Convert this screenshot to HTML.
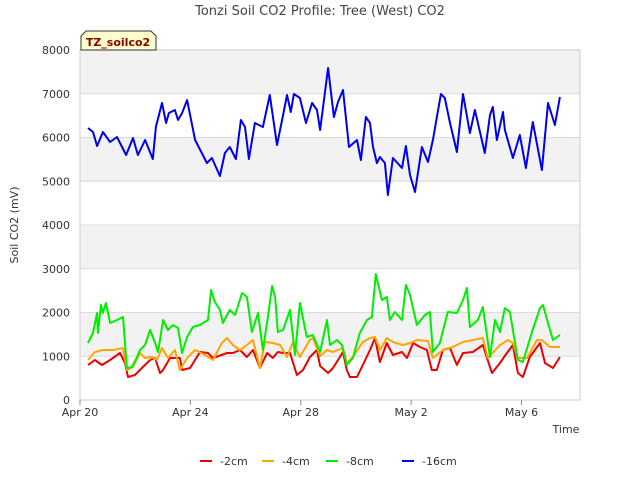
<!DOCTYPE html>
<html><head><meta charset="utf-8"><style>
body{margin:0;background:#fff;font-family:"Liberation Sans","DejaVu Sans",sans-serif}
svg text{font-family:"DejaVu Sans","Liberation Sans",sans-serif}
</style></head><body>
<svg id="c" width="640" height="480" xmlns="http://www.w3.org/2000/svg">
<text x="320" y="15" text-anchor="middle" font-size="13" fill="#444">Tonzi Soil CO2 Profile: Tree (West) CO2</text>
<g id="bands"></g><g id="grid"></g><g id="axes"></g><g id="series"></g>
<text transform="translate(18,225) rotate(-90)" text-anchor="middle" font-size="11" fill="#333">Soil CO2 (mV)</text>
<text x="566" y="433" text-anchor="middle" font-size="11" fill="#333">Time</text>
<g>
<path d="M81,50 L81,36 L86,31 L151,31 L156,36 L156,50 Z" fill="#ffffcc" stroke="#333" stroke-width="1"/>
<text x="118" y="46" text-anchor="middle" font-size="11" font-weight="bold" fill="#8b0000">TZ_soilco2</text>
</g>
<g id="legend"></g>
</svg>
<script>
const xTickLabels=["Apr 20","Apr 24","Apr 28","May 2","May 6"];
const xTickDays=[0,4,8,12,16];
const yTicks=[0,1000,2000,3000,4000,5000,6000,7000,8000];
const seriesNames=["-2cm","-4cm","-8cm","-16cm"];
const seriesColors=["#ee0000","#ffa500","#00ee00","#0000ee"];
const d16=[0.29,0.47,0.62,0.83,1.09,1.34,1.67,1.92,2.10,2.36,2.64,2.75,2.97,3.12,3.22,3.44,3.55,3.70,3.88,4.17,4.60,4.78,5.07,5.25,5.43,5.65,5.83,5.98,6.12,6.34,6.63,6.88,7.14,7.36,7.50,7.64,7.75,7.97,8.19,8.41,8.59,8.70,8.99,9.20,9.35,9.53,9.75,10.04,10.18,10.36,10.51,10.62,10.76,10.87,11.05,11.16,11.34,11.67,11.81,11.96,12.14,12.39,12.61,12.79,13.08,13.22,13.41,13.66,13.88,14.13,14.31,14.67,14.86,14.96,15.11,15.33,15.40,15.69,15.94,16.16,16.41,16.74,16.96,17.21,17.39];
const v16=[6217,6126,5806,6126,5897,6011,5600,5989,5600,5943,5509,6240,6789,6331,6560,6629,6400,6560,6857,5943,5417,5531,5120,5646,5783,5509,6400,6240,5509,6331,6240,6971,5829,6514,6971,6583,6994,6903,6331,6789,6629,6171,7589,6469,6811,7086,5783,5943,5486,6469,6331,5783,5417,5554,5417,4686,5531,5303,5806,5143,4754,5783,5440,5943,6994,6903,6331,5669,6994,6103,6629,5646,6514,6697,5943,6583,6171,5531,6057,5303,6354,5257,6789,6286,6926];
const d8=[0.29,0.47,0.62,0.65,0.76,0.83,0.94,1.09,1.34,1.56,1.70,1.88,2.07,2.17,2.36,2.54,2.72,2.83,3.01,3.19,3.37,3.55,3.70,3.88,4.09,4.35,4.64,4.75,4.89,5.07,5.18,5.43,5.62,5.87,6.05,6.23,6.45,6.63,6.81,6.96,7.07,7.17,7.36,7.61,7.79,7.97,8.22,8.44,8.70,8.95,9.06,9.31,9.49,9.67,9.89,10.14,10.40,10.58,10.72,10.94,11.12,11.23,11.41,11.67,11.81,11.96,12.21,12.50,12.68,12.79,13.04,13.33,13.66,13.88,14.02,14.13,14.42,14.60,14.86,15.04,15.22,15.40,15.58,15.69,15.87,16.05,16.38,16.67,16.78,16.96,17.14,17.39];
const v8=[1303,1531,1989,1531,2171,1989,2217,1760,1829,1897,731,754,983,1143,1257,1600,1303,1097,1829,1600,1714,1646,1074,1440,1669,1714,1829,2514,2240,2057,1760,2057,1943,2446,2354,1554,1989,1143,1897,2606,2354,1554,1600,2057,1029,2217,1440,1486,1097,1829,1257,1371,1257,800,960,1531,1829,1897,2880,2286,2354,1829,2011,1829,2629,2400,1714,1943,2011,1097,1303,2011,1989,2286,2560,1669,1829,2126,983,1829,1554,2103,2011,1600,914,869,1554,2103,2171,1760,1371,1486];
const d2=[0.29,0.54,0.80,1.09,1.45,1.63,1.74,1.99,2.28,2.54,2.72,2.90,3.01,3.26,3.62,3.70,3.99,4.35,4.64,4.82,5.33,5.54,5.80,6.05,6.27,6.52,6.78,6.99,7.17,7.36,7.61,7.86,8.08,8.33,8.59,8.70,8.99,9.17,9.53,9.67,9.78,10.04,10.25,10.51,10.69,10.87,11.12,11.34,11.67,11.85,12.07,12.32,12.57,12.75,12.93,13.15,13.41,13.66,13.88,14.24,14.60,14.75,14.93,15.22,15.47,15.69,15.87,16.05,16.30,16.67,16.85,17.14,17.39];
const v2=[800,914,800,914,1074,846,526,571,754,914,960,617,686,960,960,686,731,1097,1074,960,1074,1074,1143,983,1143,731,1074,960,1097,1074,1074,571,686,983,1143,777,617,731,1097,686,526,526,800,1143,1417,869,1303,1029,1097,960,1303,1211,1143,686,686,1143,1189,800,1074,1097,1257,960,617,846,1074,1257,617,526,983,1303,846,731,983];
const d4=[0.29,0.54,0.83,1.20,1.56,1.70,1.92,2.17,2.36,2.61,2.79,2.97,3.19,3.44,3.62,3.88,4.17,4.53,4.82,5.14,5.33,5.54,5.80,6.05,6.27,6.52,6.70,6.99,7.25,7.50,7.72,7.97,8.33,8.44,8.70,8.95,9.17,9.53,9.67,9.89,10.25,10.51,10.69,10.87,11.12,11.34,11.70,11.96,12.21,12.61,12.79,13.15,13.51,13.88,14.24,14.60,14.78,15.22,15.51,15.69,15.87,16.20,16.56,16.74,17.03,17.39];
const v4=[914,1097,1143,1143,1189,686,754,1074,960,983,914,1189,960,1143,686,960,1143,1029,914,1303,1417,1257,1143,1257,1371,731,1326,1303,1257,983,1326,983,1371,1417,1006,1143,1097,1189,846,983,1326,1417,1440,1143,1417,1326,1257,1303,1371,1349,960,1143,1211,1326,1371,1417,960,1257,1371,1303,960,960,1371,1371,1211,1211];
const NS='http://www.w3.org/2000/svg';
const L=80,R=580,T=50,B=400,D0=0,D1=18.12;
const xs=d=>L+(d-D0)/(D1-D0)*(R-L);
const ys=v=>B-v/8000*(B-T);
function mk(tag,at,parent){const e=document.createElementNS(NS,tag);for(const k in at)e.setAttribute(k,at[k]);document.getElementById(parent).appendChild(e);return e;}
for(let i=0;i<8;i++){if(i%2===1){const r=mk('rect',{x:L,y:ys(i+1?(i+1)*1000:0),width:R-L,height:ys(i*1000)-ys((i+1)*1000),fill:'#f2f2f2'},'bands');

}}
yTicks.forEach(v=>{const l=mk('line',{x1:L,x2:R,y1:ys(v),y2:ys(v),stroke:'#dcdcdc'},'grid');


const t=mk('text',{x:L-10,y:ys(v)+4,'text-anchor':'end','font-size':11,fill:'#333'},'axes');t.textContent=v;

});
const fr=mk('rect',{x:L,y:T,width:R-L,height:B-T,fill:'none',stroke:'#ccc'},'axes');


xTickDays.forEach((d,i)=>{const l=mk('line',{x1:xs(d),x2:xs(d),y1:B,y2:B+5,stroke:'#888'},'axes');


const t=mk('text',{x:xs(d),y:B+16,'text-anchor':'middle','font-size':11,fill:'#333'},'axes');t.textContent=xTickLabels[i];

});
const sd=[[d2,v2],[d4,v4],[d8,v8],[d16,v16]];
sd.forEach((s,k)=>{const pts=s[0].map((d,i)=>xs(d).toFixed(1)+','+ys(s[1][i]).toFixed(1)).join(' ');
const p=mk('polyline',{points:pts,fill:'none',stroke:seriesColors[k],'stroke-width':2,'stroke-linejoin':'round'},'series');

});
const lx=[200,262,326,402];
seriesNames.forEach((n,k)=>{const g=mk('g',{},'legend');


const l=document.createElementNS(NS,'line');l.setAttribute('x1',lx[k]);l.setAttribute('x2',lx[k]+12);l.setAttribute('y1',461);l.setAttribute('y2',461);l.setAttribute('stroke',seriesColors[k]);l.setAttribute('stroke-width',2);g.appendChild(l);
const t=document.createElementNS(NS,'text');t.setAttribute('x',lx[k]+20);t.setAttribute('y',465);t.setAttribute('font-size',11);t.setAttribute('fill','#333');t.textContent=n;g.appendChild(t);});
</script>
</body></html>
